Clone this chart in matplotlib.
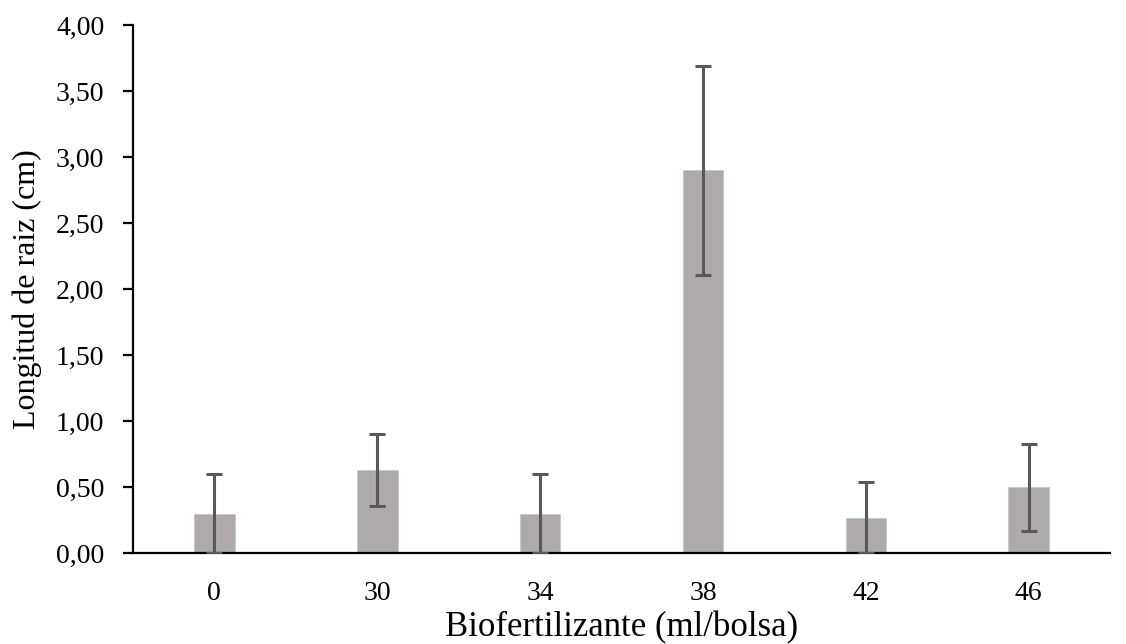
import numpy as np
import matplotlib
matplotlib.use("Agg")
import matplotlib.pyplot as plt
from matplotlib.ticker import FuncFormatter

# datos
dosis = ["0", "30", "34", "38", "42", "46"]
longitud = [0.30, 0.63, 0.30, 2.90, 0.27, 0.50]
error = [0.30, 0.27, 0.30, 0.79, 0.27, 0.33]

plt.rcParams['font.family'] = ['Liberation Serif', 'DejaVu Serif']

fig = plt.figure(figsize=(11.26, 6.44), dpi=100)
ax = fig.add_axes([0.118, 0.141, 0.868, 0.82])

x = np.arange(len(dosis))
ax.bar(x, longitud, width=0.25, color="#adaaa9", edgecolor="#c8c6c5", linewidth=0.6, zorder=2)
ax.errorbar(x, longitud, yerr=error, fmt="none", ecolor="#595959",
            elinewidth=2.2, capsize=6, capthick=2.2, zorder=3)

ax.set_xlim(-0.5, len(dosis) - 0.5)
ax.set_ylim(0, 4)
ax.set_yticks(np.arange(0, 4.01, 0.5))
ax.yaxis.set_major_formatter(FuncFormatter(lambda v, p: f"{v:.2f}".replace(".", ",")))
ax.set_xticks(x)
ax.set_xticklabels(dosis)

ax.spines['top'].set_visible(False)
ax.spines['right'].set_visible(False)
ax.spines['left'].set_linewidth(1.6)
ax.spines['bottom'].set_linewidth(1.6)
ax.tick_params(axis='y', direction='out', length=7.5, width=1.6, labelsize=20, pad=13)
ax.tick_params(axis='x', length=0, labelsize=20, pad=20)

ax.set_xlabel("Biofertilizante (ml/bolsa)", fontsize=25, labelpad=4)
ax.set_ylabel("Longitud de raiz (cm)", fontsize=23, labelpad=10)

fig.savefig("out.png", dpi=100)
